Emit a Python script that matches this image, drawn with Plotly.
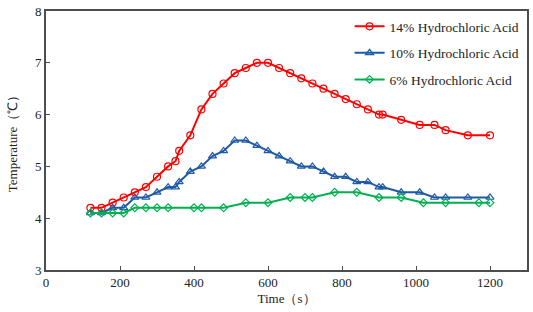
import plotly.graph_objects as go

time_14 = [120, 150, 180, 210, 240, 270, 300, 330, 350, 360, 390, 420, 450, 480, 510, 540, 570, 600,
           630, 660, 690, 720, 750, 780, 810, 840, 870, 900, 910, 960, 1010, 1050, 1080, 1140, 1200]
temp_14 = [4.2, 4.2, 4.3, 4.4, 4.5, 4.6, 4.8, 5.0, 5.1, 5.3, 5.6, 6.1, 6.4, 6.6, 6.8, 6.9, 7.0, 7.0,
           6.9, 6.8, 6.7, 6.6, 6.5, 6.4, 6.3, 6.2, 6.1, 6.0, 6.0, 5.9, 5.8, 5.8, 5.7, 5.6, 5.6]

time_10 = [120, 150, 180, 210, 240, 270, 300, 330, 350, 360, 390, 420, 450, 480, 510, 540, 570, 600,
           630, 660, 690, 720, 750, 780, 810, 840, 870, 900, 910, 960, 1010, 1050, 1080, 1140, 1200]
temp_10 = [4.1, 4.1, 4.2, 4.2, 4.4, 4.4, 4.5, 4.6, 4.6, 4.7, 4.9, 5.0, 5.2, 5.3, 5.5, 5.5, 5.4, 5.3,
           5.2, 5.1, 5.0, 5.0, 4.9, 4.8, 4.8, 4.7, 4.7, 4.6, 4.6, 4.5, 4.5, 4.4, 4.4, 4.4, 4.4]

time_6 = [120, 150, 180, 210, 240, 270, 300, 330, 400, 420, 480, 540, 600, 660, 700, 720, 780, 840,
          900, 960, 1020, 1080, 1170, 1200]
temp_6 = [4.1, 4.1, 4.1, 4.1, 4.2, 4.2, 4.2, 4.2, 4.2, 4.2, 4.2, 4.3, 4.3, 4.4, 4.4, 4.4, 4.5, 4.5,
          4.4, 4.4, 4.3, 4.3, 4.3, 4.3]

x_ticks = [0, 200, 400, 600, 800, 1000, 1200]
y_ticks = [3, 4, 5, 6, 7, 8]

series = [
    ("14% Hydrochloric Acid", time_14, temp_14, "#FF0000", "circle-open", 7),
    ("10% Hydrochloric Acid", time_10, temp_10, "#1F5AA6", "triangle-up-open", 7),
    ("6% Hydrochloric Acid", time_6, temp_6, "#00B050", "diamond-open", 6),
]

fig = go.Figure()
for i, (name, xs, ys, color, sym, size) in enumerate(series):
    fig.add_trace(go.Scatter(
        x=xs, y=ys, name=name, mode="lines+markers",
        line=dict(color=color, width=2),
        marker=dict(symbol=sym, size=size, color=color, line=dict(width=1.2, color=color)),
        legendgroup=f"g{i}",
    ))

font_family = "Liberation Serif"
axis_common = dict(
    showline=True, linecolor="#4d4d4d", linewidth=1.6, mirror=True,
    ticks="inside", ticklen=4, tickcolor="#4d4d4d", showgrid=False, zeroline=False,
    tickfont=dict(family=font_family, size=13, color="#222222"),
    ticklabeloverflow="allow",
)

fig.update_layout(
    width=533, height=312,
    margin=dict(l=46, r=4, t=5, b=42),
    paper_bgcolor="white", plot_bgcolor="white",
    font=dict(family=font_family, color="#222222"),
    xaxis=dict(range=[0, 1300], tickvals=x_ticks, **axis_common,
               title=dict(text="Time（s）", font=dict(family=font_family, size=13), standoff=4)),
    yaxis=dict(range=[3, 8.0001], tickvals=y_ticks, **axis_common,
               title=dict(text="Temperature（℃）", font=dict(family=font_family, size=13), standoff=15)),
    legend=dict(x=0.995, y=1.0, xanchor="right", yanchor="top",
                font=dict(family=font_family, size=13.5, color="#222222"),
                bgcolor="rgba(0,0,0,0)", tracegroupgap=6, itemwidth=30),
    showlegend=True,
)

fig.write_html("out.html", config={"displayModeBar": False},
               post_script="document.body.style.margin='0px';document.body.style.padding='0px';")
